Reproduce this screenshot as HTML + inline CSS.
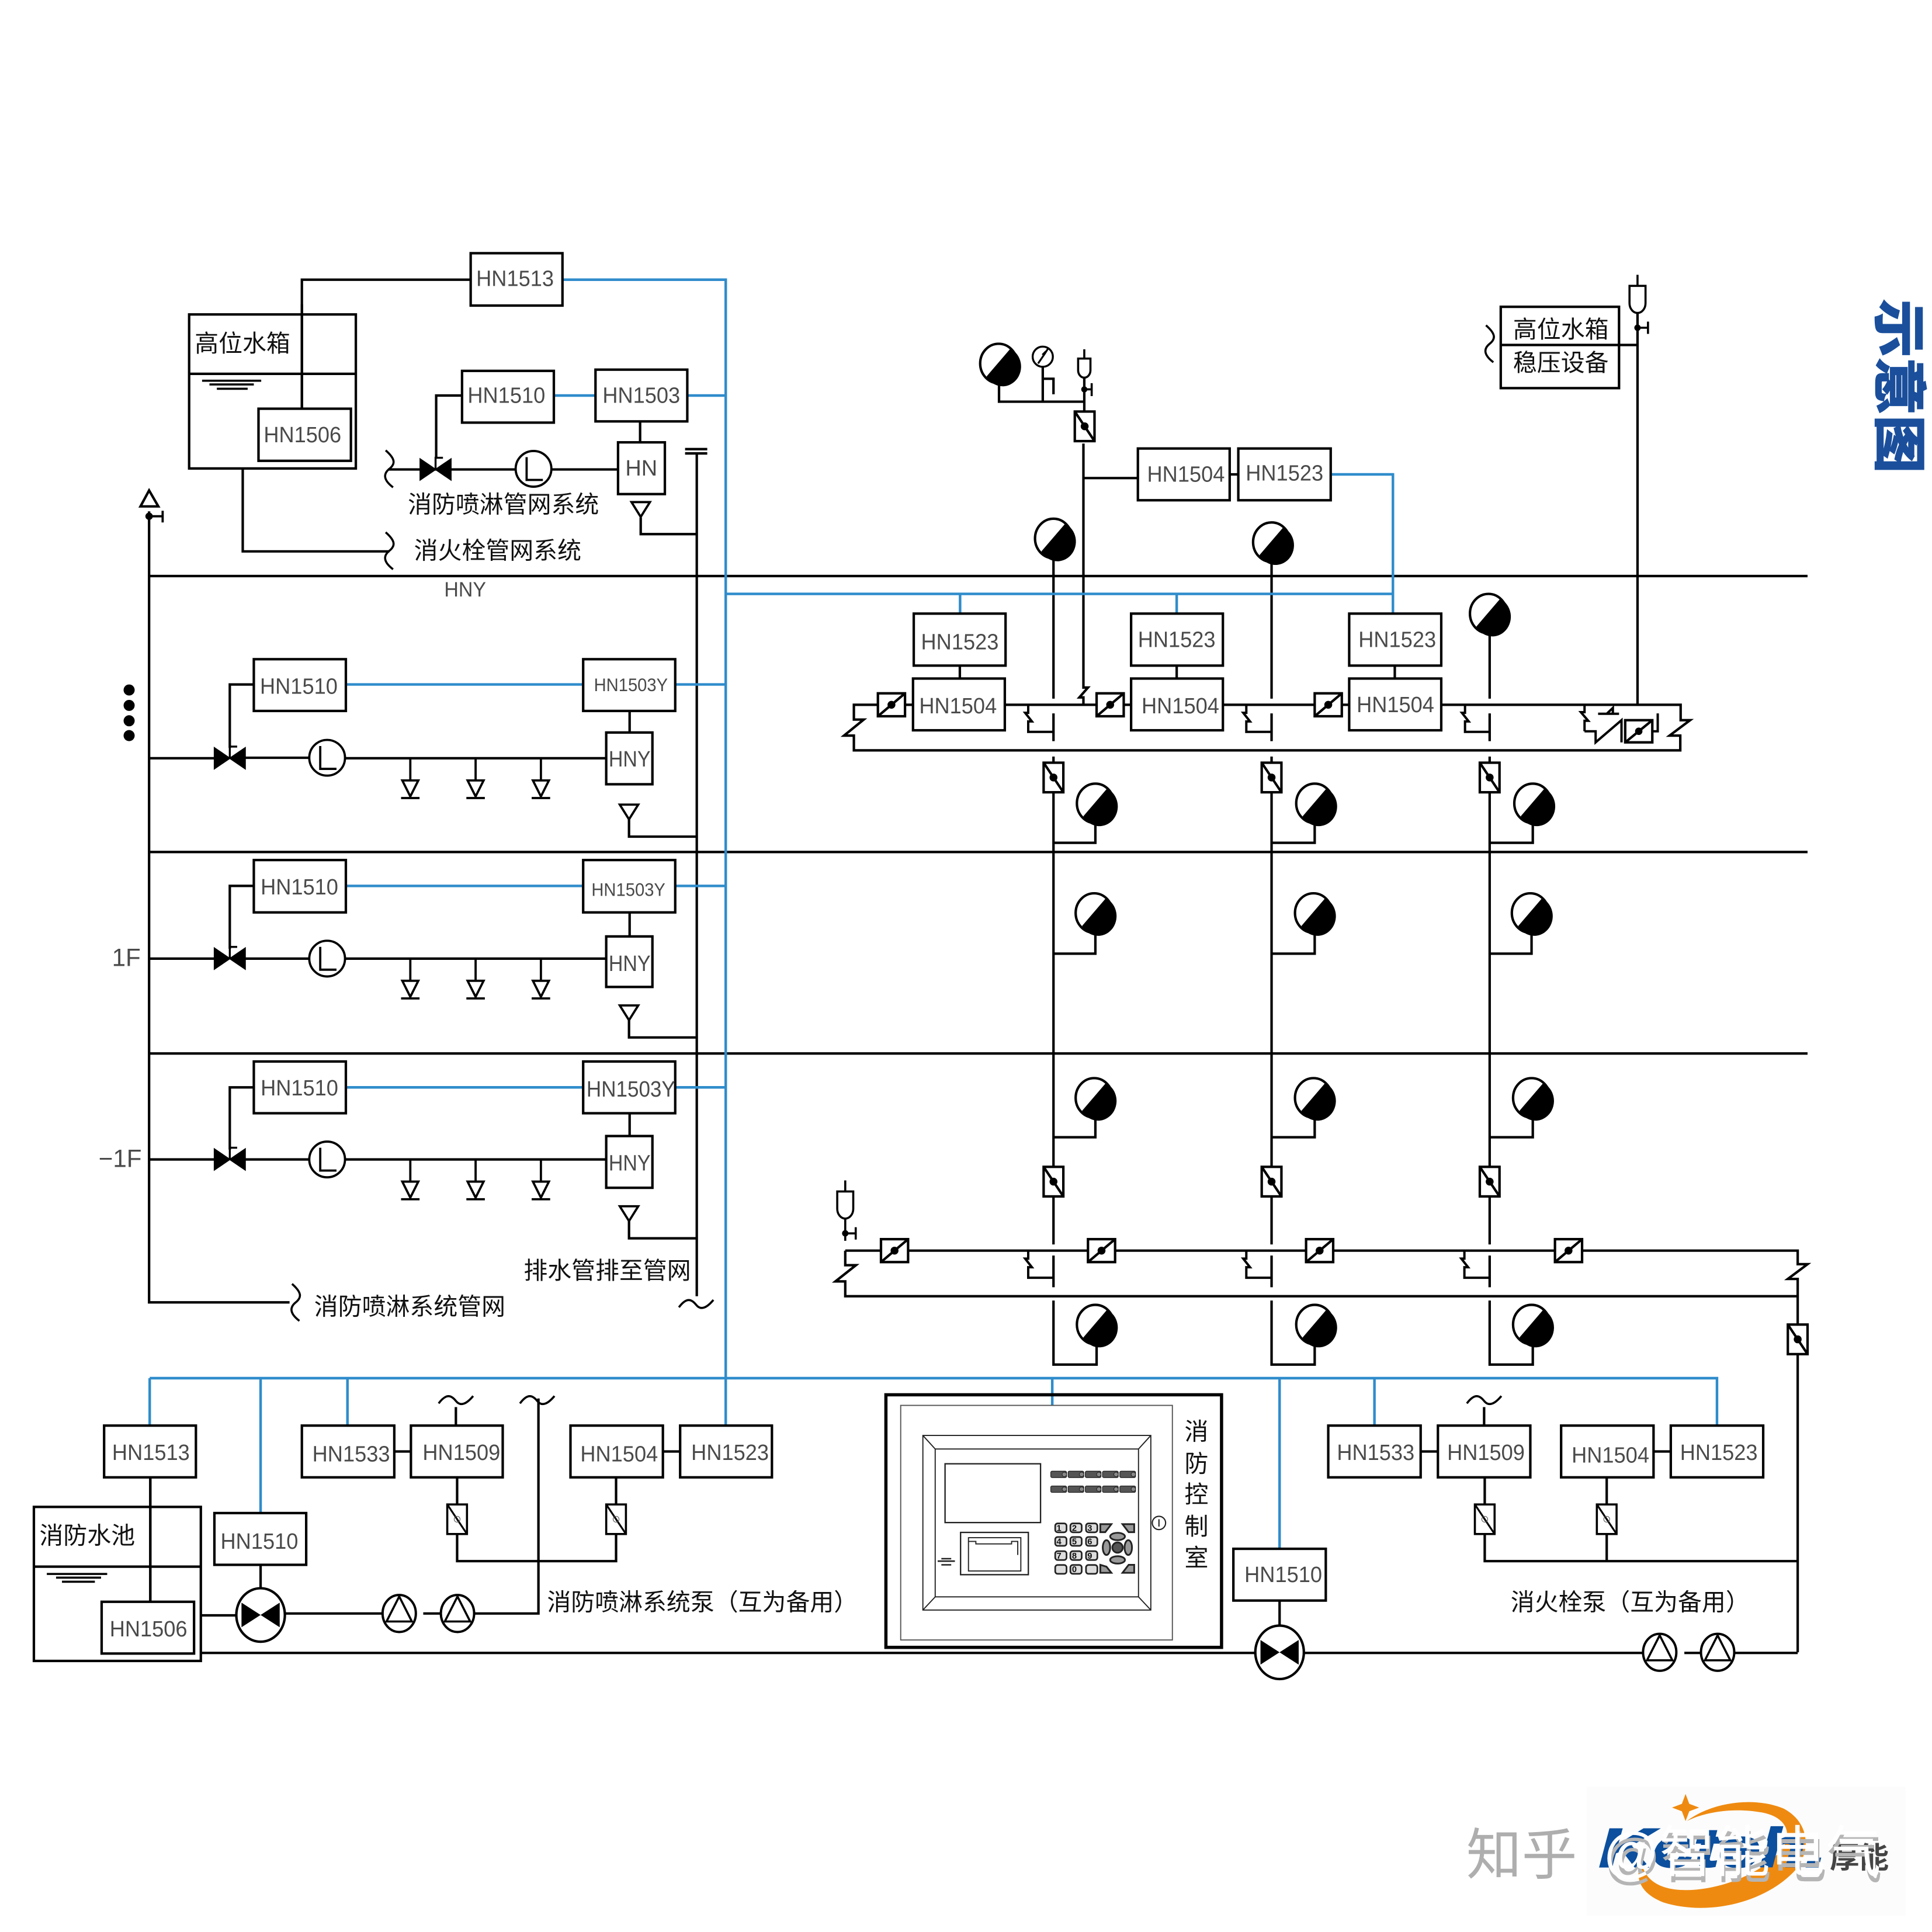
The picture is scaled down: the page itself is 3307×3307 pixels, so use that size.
<!DOCTYPE html>
<html lang="zh">
<head>
<meta charset="utf-8">
<title>消防喷淋系统图</title>
<style>
html,body{margin:0;padding:0;background:#fff}
svg{display:block}
.n{font-family:"Liberation Sans",sans-serif;font-size:18px;fill:#4a4a4a;text-anchor:middle}
.c{font-family:"Liberation Sans","Noto Sans CJK SC",sans-serif;font-size:19.4px;fill:#111}
</style>
</head>
<body>
<svg xmlns="http://www.w3.org/2000/svg" width="3307" height="3307" viewBox="0 0 1568 1568">
<defs>
<g id="valve"><path d="M-12.5,-8.5V8.5L12.5,-8.5V8.5Z" fill="#000" stroke="#000" stroke-width="1"/><path d="M0,0V-9.5H6" fill="none" stroke="#000" stroke-width="1.6"/></g>
<g id="lc"><circle r="14.5" fill="#fff" stroke="#000" stroke-width="1.8"/><path d="M-5.6,-9.5V9H7.6" fill="none" stroke="#000" stroke-width="1.8"/></g>
<g id="spr"><path d="M0,0V18M-6.5,18H6.5L0,31ZM-7.5,32.3H7.5" fill="none" stroke="#000" stroke-width="1.8"/></g>
<g id="drn"><path d="M-7.5,0H7.5L0,12Z" fill="#fff" stroke="#000" stroke-width="1.8"/></g>
<g id="bub"><ellipse rx="15" ry="16" fill="#fff" stroke="#000" stroke-width="2"/><path d="M-9.8,10.5L9.5,-12A15,16 0 1 1 -9.8,10.5Z" fill="#000"/></g>
<g id="chk"><rect x="-11" y="-9.3" width="22" height="18.6" fill="#fff" stroke="#000" stroke-width="2"/><path d="M-11,9.3L11,-9.3" stroke="#000" stroke-width="2"/><circle r="3.2" fill="#000"/></g>
<g id="vv"><rect x="-8" y="-12" width="16" height="24" fill="#fff" stroke="#000" stroke-width="2"/><path d="M-8,-12L8,12" stroke="#000" stroke-width="2"/><circle r="3.2" fill="#000"/></g>
<g id="vh"><rect x="-8" y="-12" width="16" height="24" fill="#fff" stroke="#000" stroke-width="1.7"/><path d="M-8,-12L8,12" stroke="#000" stroke-width="1.5"/><circle r="2.4" fill="none" stroke="#555" stroke-width=".5"/></g>
<g id="pump"><ellipse rx="19.7" ry="21.7" fill="#fff" stroke="#000" stroke-width="2"/><path d="M-15.5,-10V10L15.5,-10V10Z" fill="#000"/></g>
<g id="tp"><ellipse rx="13.5" ry="15" fill="#fff" stroke="#000" stroke-width="1.9"/><path d="M0,-13.8L10.3,6.5H-10.3Z" fill="none" stroke="#000" stroke-width="1.7"/></g>
<g id="jog"><path d="M-20.5,0V6.5H-23L-17.5,13.5H-20.5V22H0" fill="none" stroke="#000" stroke-width="1.9"/></g>
<g id="cap"><path d="M0,-17V-8M-6.5,-8H6.5V6A6.5,8 0 0 1 -6.5,6ZM0,14V32" fill="#fff" stroke="#000" stroke-width="1.7"/><path d="M0,26H8.5M8.5,21V31" fill="none" stroke="#000" stroke-width="1.7"/><circle cy="26" r="2.6" fill="#000"/></g>
<g id="sq"><path d="M-3,-15C5,-8 5,-4 0,0C-5,4 -5,9 3,15" fill="none" stroke="#000" stroke-width="1.7"/></g>
<g id="tl"><path d="M-14,3C-8,-5 -4,-4 0,1C4,6 9,3 14,-3" fill="none" stroke="#000" stroke-width="1.7"/></g>
<g id="btn"><rect width="12.8" height="5.2" rx="1" fill="#555" stroke="#111" stroke-width=".5"/><circle cx="11" cy="2.6" r="1.8" fill="#888" stroke="#111" stroke-width=".4"/></g>
<g id="key"><rect x=".4" y=".4" width="9.2" height="7.2" rx="2" fill="#ddd" stroke="#222" stroke-width="1.3"/></g>
</defs>

<rect width="1568" height="1568" fill="#fff"/>

<!-- black pipes and floors -->
<g fill="none" stroke="#000" stroke-width="2">
<path d="M121,467.5H1467M121,691.5H1467M121,855H1467"/>
<path d="M121,415V1057H235"/>
<path d="M245,332V227H382"/>
<path d="M315,381H501M354,372V321H375M519.5,341V360M520,420V433.5H565"/>
<path d="M197,380V447.5H316"/>
<path d="M565.5,368V1052M556,364.5H574M556,368H574"/>
<path d="M186.5,607V555.5H206M280,615.4H492M511,577V595M510.5,665V679H565M121,615.4H174M199,615H251"/>
<path d="M186.5,770V719H206M280,778H492M511,740V760M510.5,828V842H565M121,778H174M199,778H251"/>
<path d="M186.5,933V882.5H206M280,941H492M511,903V922M510.5,991V1005H565M121,941H174M199,941H251"/>

<!-- upper center -->
<path d="M810.8,310V326H880M846.3,298V326M846.3,307.4H855V320"/>
<path d="M880,306V334M879.3,360V558H883L876,566H879.3V572"/>
<path d="M879.3,388H923M998,385H1005"/>
<path d="M1329,254V572M1314,280H1329"/>
<path d="M693,572H1364V584.5H1371.7L1355,597H1363.7V609H693V597H685L701,584H693Z"/>
<path d="M779,540V551M955,540V551M1132,540V551"/>
<path d="M1286,593.5H1295V602.5L1316,584.5V602.5M1297,579.3H1314M1304,579.3L1309,574.5V579.3M1341,593.5H1345.4V579" stroke-width="1.9"/>
<path d="M1286,572V578L1283,578L1289,585H1286V593.5" stroke-width="1.9"/>

<!-- columns -->
<path d="M855,452V567M855,579V601.5M855,614V619M855,643V947M855,971V1010M855,1019V1044.7M855,1055.5V1107.5H890V1091"/>
<path d="M1032,456V567M1032,579V601.5M1032,614V619M1032,643V947M1032,971V1010M1032,1019V1044.7M1032,1055.5V1107.5H1067V1091"/>
<path d="M1209,513V567M1209,579V601.5M1209,614V619M1209,643V947M1209,971V1010M1209,1019V1044.7M1209,1055.5V1107.5H1244V1091"/>
<path d="M855,684H889V668M1032,684H1067V668M1209,684H1244V668"/>
<path d="M855,774H889V757M1032,774H1067V757M1209,774H1243V757"/>
<path d="M855,923H889V907M1032,923H1067V907M1209,923H1244V907"/>

<!-- lower loop -->
<path d="M686,1015H1459V1026H1467L1451,1038H1459V1341M686,1015V1026.8H694.7L678,1040H686V1052H1459"/>

<!-- bottom -->
<path d="M122,1199V1300M320,1178H333M538,1178H552M1153,1178H1167M1342,1178H1356"/>
<path d="M163,1341.5H1019M1058,1341.5H1333M1367,1341.5H1380M1407,1341.5H1459M211.5,1270V1292M1038.5,1299V1322"/>
<path d="M163,1311H192M231,1309.5H311M343.5,1309.5H358M385,1309.5H437V1135M370,1142V1157"/>
<path d="M371,1199V1221M371,1245V1267H500V1245M500,1221V1199"/>
<path d="M1205,1199V1221M1205,1245V1267H1459M1304,1199V1221M1304,1245V1267M1204.5,1142V1157"/>
</g>

<!-- blue -->
<g fill="none" stroke="#2f8ccb" stroke-width="2.1">
<path d="M457,227H589V1118.5M450,321H483M557,321H589"/>
<path d="M589,482H1130.5M1081,385H1130.5V498M779.2,482V498M955,482V498"/>
<path d="M281,555.5H473M548,555.5H589M281,719H473M548,719H589M281,882.5H473M548,882.5H589"/>
<path d="M121.5,1118.5H1393.5V1157M121.5,1118.5V1157M211.5,1118.5V1228M282,1118.5V1157M589,1118.5V1157M854,1118.5V1140.5M1038.5,1118.5V1257M1115.5,1118.5V1157"/>
</g>

<!-- tanks -->
<g fill="none" stroke="#000" stroke-width="2">
<rect x="153.5" y="255.2" width="135.3" height="125"/>
<path d="M153.5,303.4H288.8"/>
<path d="M164,309H212M170,312H206M176,315.5H201" stroke-width="1.7"/>
<rect x="27.5" y="1223" width="135.5" height="125"/>
<path d="M27.5,1271.5H163"/>
<path d="M38,1277.4H87M45.5,1280.4H82M50.3,1283.7H77" stroke-width="1.7"/>
<rect x="1218" y="249" width="96" height="66" fill="#fff"/>
<path d="M1218,280H1314"/>
<rect x="719" y="1132" width="272.4" height="205" stroke-width="2.6"/>
</g>

<!-- symbols -->
<use href="#sq" x="316" y="380.5"/><use href="#sq" x="316" y="447"/><use href="#sq" x="240" y="1057"/><use href="#sq" x="1209" y="279"/>
<use href="#tl" x="565" y="1058"/><use href="#tl" x="370" y="1136"/><use href="#tl" x="436" y="1136"/><use href="#tl" x="1204.5" y="1136"/>

<path d="M114,411L121,398L128.5,411Z" fill="#fff" stroke="#000" stroke-width="2"/>
<path d="M121,419H132M132,414.5V424" fill="none" stroke="#000" stroke-width="1.8"/><circle cx="121" cy="419" r="3" fill="#000"/>
<g fill="#000"><circle cx="104.8" cy="560" r="4.5"/><circle cx="104.8" cy="572.5" r="4.5"/><circle cx="104.8" cy="585" r="4.5"/><circle cx="104.8" cy="597" r="4.5"/></g>

<use href="#valve" x="353.5" y="381"/><use href="#lc" x="433" y="380.5"/><use href="#drn" x="520" y="407.5"/>
<use href="#valve" x="186.5" y="615.4"/><use href="#lc" x="265.5" y="615"/><use href="#spr" x="333" y="615.4"/><use href="#spr" x="386" y="615.4"/><use href="#spr" x="439" y="615.4"/><use href="#drn" x="510.5" y="653"/>
<use href="#valve" x="186.5" y="778"/><use href="#lc" x="265.5" y="778"/><use href="#spr" x="333" y="778"/><use href="#spr" x="386" y="778"/><use href="#spr" x="439" y="778"/><use href="#drn" x="510.5" y="816"/>
<use href="#valve" x="186.5" y="941"/><use href="#lc" x="265.5" y="941"/><use href="#spr" x="333" y="941"/><use href="#spr" x="386" y="941"/><use href="#spr" x="439" y="941"/><use href="#drn" x="510.5" y="979"/>

<use href="#bub" x="810.5" y="295"/>
<circle cx="846.3" cy="289.5" r="8.2" fill="#fff" stroke="#000" stroke-width="1.6"/><path d="M842.5,295L848,287L850.5,283M846,288L849,285" stroke="#000" stroke-width="1.5" fill="none"/>
<path d="M880,283.5V291M875,291H885V300.5A5,6 0 0 1 875,300.5Z" fill="#fff" stroke="#000" stroke-width="1.7"/>
<path d="M880,316H886M886,311V321.5" fill="none" stroke="#000" stroke-width="1.7"/><circle cx="880" cy="316" r="2.5" fill="#000"/>
<use href="#vv" x="880.3" y="346"/>
<use href="#cap" x="1329" y="240"/>

<use href="#bub" x="855" y="437"/><use href="#bub" x="1032" y="440"/><use href="#bub" x="1208" y="498"/>
<use href="#chk" x="723.5" y="572"/><use href="#chk" x="901" y="572"/><use href="#chk" x="1078" y="572"/>
<use href="#jog" x="855" y="572"/><use href="#jog" x="1032" y="572"/><use href="#jog" x="1209.5" y="572"/>
<rect x="1319" y="584.5" width="22" height="18" fill="#fff" stroke="#000" stroke-width="2"/><path d="M1319,602.5L1341,584.5" stroke="#000" stroke-width="2"/><circle cx="1330" cy="593.5" r="3" fill="#000"/>

<use href="#vv" x="855" y="631"/><use href="#vv" x="1032" y="631"/><use href="#vv" x="1209" y="631"/>
<use href="#bub" x="889" y="652"/><use href="#bub" x="1067" y="652"/><use href="#bub" x="1244" y="652"/>
<use href="#bub" x="888" y="741"/><use href="#bub" x="1066" y="741"/><use href="#bub" x="1242" y="741"/>
<use href="#bub" x="888" y="891"/><use href="#bub" x="1066" y="891"/><use href="#bub" x="1243" y="891"/>
<use href="#vv" x="855" y="959"/><use href="#vv" x="1032" y="959"/><use href="#vv" x="1209" y="959"/>
<use href="#cap" x="686" y="975"/>
<use href="#chk" x="726" y="1015"/><use href="#chk" x="894" y="1015"/><use href="#chk" x="1071" y="1015"/><use href="#chk" x="1273" y="1015"/>
<use href="#jog" x="855" y="1015"/><use href="#jog" x="1032" y="1015"/><use href="#jog" x="1209" y="1015"/>
<use href="#bub" x="889" y="1075"/><use href="#bub" x="1067" y="1075"/><use href="#bub" x="1243" y="1075"/>
<use href="#vv" x="1459" y="1087"/>

<use href="#vh" x="371" y="1233"/><use href="#vh" x="500" y="1233"/><use href="#vh" x="1205" y="1233"/><use href="#vh" x="1304" y="1233"/>
<use href="#pump" x="211.5" y="1310.7"/><use href="#pump" x="1038.5" y="1341"/>
<use href="#tp" x="324" y="1309.5"/><use href="#tp" x="371.3" y="1309.5"/><use href="#tp" x="1347" y="1341"/><use href="#tp" x="1394" y="1341"/>

<!-- boxes -->
<g fill="#fff" stroke="#000" stroke-width="2">
<rect x="382" y="205.5" width="74.5" height="42.5"/>
<rect x="375" y="301" width="74.5" height="42"/>
<rect x="483.3" y="300" width="74.5" height="42"/>
<rect x="209.8" y="331.7" width="75" height="42.3"/>
<rect x="501.6" y="359" width="38" height="42"/>
<rect x="206" y="535" width="74.7" height="42"/><rect x="473.3" y="535" width="74.7" height="42"/><rect x="492" y="594.5" width="37.5" height="42"/>
<rect x="206" y="698" width="74.7" height="42.5"/><rect x="473.3" y="698" width="74.7" height="42.5"/><rect x="492" y="760" width="37.5" height="41"/>
<rect x="206" y="861.5" width="74.7" height="42"/><rect x="473.3" y="861.5" width="74.7" height="42"/><rect x="492" y="922" width="37.5" height="42"/>
<rect x="923.5" y="364" width="74.5" height="42"/><rect x="1005" y="364" width="75" height="42"/>
<rect x="741.6" y="498" width="74.5" height="42.2"/><rect x="918" y="498" width="74.5" height="42.2"/><rect x="1095" y="498" width="74.7" height="42.2"/>
<rect x="741" y="550.7" width="74.5" height="42"/><rect x="918" y="550.7" width="74.5" height="42"/><rect x="1095" y="550.7" width="74.7" height="42"/>
<rect x="84.5" y="1157" width="74.5" height="42"/><rect x="245" y="1157" width="75" height="42"/><rect x="333.5" y="1157" width="74.5" height="42"/><rect x="463" y="1157" width="75" height="42"/><rect x="552" y="1157" width="74.5" height="42"/>
<rect x="174" y="1228" width="74.5" height="42"/><rect x="82.5" y="1300" width="75" height="42"/>
<rect x="1001" y="1257" width="75" height="42"/>
<rect x="1078" y="1157" width="75" height="42"/><rect x="1167" y="1157" width="75" height="42"/><rect x="1267" y="1157" width="75" height="42"/><rect x="1356" y="1157" width="75" height="42"/>
</g>
<path d="M122,1199V1300M245,247V332" stroke="#000" stroke-width="2" fill="none"/>

<!-- panel -->
<g fill="none" stroke="#222" stroke-width=".9">
<rect x="731" y="1140.6" width="220.5" height="190.4" stroke="#555"/>
<rect x="749" y="1165" width="185" height="141.7"/>
<rect x="759" y="1176" width="165" height="120"/>
<path d="M749,1165L759,1176M934,1165L924,1176M749,1306.7L759,1296M934,1306.7L924,1296"/>
<rect x="767" y="1188" width="77.5" height="47.7" stroke-width="1.1"/>
<rect x="779.6" y="1243.7" width="55" height="34.3" stroke-width="1.1"/>
<path d="M786,1248H828.5V1275H786Z M786,1251H792V1253H821V1251H826V1262" stroke-width=".9"/>
<circle cx="940.6" cy="1236" r="5.4" stroke-width="1"/><path d="M940.6,1233V1239" stroke-width="1"/>
<path d="M761,1267H775M764,1265H772M764,1270H772" stroke-width="1.2"/>
<g stroke-width="1.4">
<circle cx="907" cy="1256" r="4.2" fill="#555"/>
<ellipse cx="907" cy="1247" rx="6" ry="3" fill="#999"/><ellipse cx="907" cy="1266" rx="6" ry="3" fill="#999"/>
<ellipse cx="898" cy="1256" rx="3" ry="6" fill="#999"/><ellipse cx="915.7" cy="1256" rx="3" ry="6" fill="#999"/>
<path d="M893,1237H902L897,1243.5H893ZM911,1237H920.5V1243.5H916Z" fill="#999"/>
<path d="M893,1276.5V1270L898,1271.5L902,1276.5ZM911,1276.5L916,1270H920.5V1276.5Z" fill="#999"/>
</g>
</g>
<use href="#btn" x="852.8" y="1194"/><use href="#btn" x="866.8" y="1194"/><use href="#btn" x="880.8" y="1194"/><use href="#btn" x="894.8" y="1194"/><use href="#btn" x="908.8" y="1194"/>
<use href="#btn" x="852.8" y="1206"/><use href="#btn" x="866.8" y="1206"/><use href="#btn" x="880.8" y="1206"/><use href="#btn" x="894.8" y="1206"/><use href="#btn" x="908.8" y="1206"/>
<use href="#key" x="856" y="1236"/><use href="#key" x="868.3" y="1236"/><use href="#key" x="881" y="1236"/>
<use href="#key" x="856" y="1247"/><use href="#key" x="868.3" y="1247"/><use href="#key" x="881" y="1247"/>
<use href="#key" x="856" y="1258.5"/><use href="#key" x="868.3" y="1258.5"/><use href="#key" x="881" y="1258.5"/>
<use href="#key" x="856" y="1269.7"/><use href="#key" x="868.3" y="1269.7"/><use href="#key" x="881" y="1269.7"/>
<g font-family="Liberation Sans,sans-serif" font-size="7" fill="#111" font-weight="bold">
<text x="857.5" y="1242.5">1</text><text x="870" y="1242.5">2</text><text x="882.5" y="1242.5">3</text>
<text x="857.5" y="1253.5">4</text><text x="870" y="1253.5">5</text><text x="882.5" y="1253.5">6</text>
<text x="857.5" y="1265">7</text><text x="870" y="1265">8</text><text x="882.5" y="1265">9</text>
<text x="870" y="1276">0</text>
</g>

<!-- HN labels -->
<text class="n" x="418" y="232" textLength="63" lengthAdjust="spacingAndGlyphs">HN1513</text>
<text class="n" x="411" y="327" textLength="63" lengthAdjust="spacingAndGlyphs">HN1510</text>
<text class="n" x="520.5" y="327" textLength="63" lengthAdjust="spacingAndGlyphs">HN1503</text>
<text class="n" x="245.5" y="359" textLength="63" lengthAdjust="spacingAndGlyphs">HN1506</text>
<text class="n" x="520.5" y="386">HN</text>
<text class="n" x="377.5" y="484" style="font-size:16.5px" textLength="34" lengthAdjust="spacingAndGlyphs">HNY</text>
<text class="n" x="242.5" y="563" textLength="63" lengthAdjust="spacingAndGlyphs">HN1510</text>
<text class="n" x="512" y="561" style="font-size:15px" textLength="60" lengthAdjust="spacingAndGlyphs">HN1503Y</text>
<text class="n" x="511" y="622" textLength="34" lengthAdjust="spacingAndGlyphs">HNY</text>
<text class="n" x="243" y="726" textLength="63" lengthAdjust="spacingAndGlyphs">HN1510</text>
<text class="n" x="510" y="727" style="font-size:15px" textLength="60" lengthAdjust="spacingAndGlyphs">HN1503Y</text>
<text class="n" x="511" y="788" textLength="34" lengthAdjust="spacingAndGlyphs">HNY</text>
<text class="n" x="243" y="889" textLength="63" lengthAdjust="spacingAndGlyphs">HN1510</text>
<text class="n" x="512" y="890" textLength="72" lengthAdjust="spacingAndGlyphs">HN1503Y</text>
<text class="n" x="511" y="950" textLength="34" lengthAdjust="spacingAndGlyphs">HNY</text>
<text class="n" x="962.5" y="391" textLength="63" lengthAdjust="spacingAndGlyphs">HN1504</text>
<text class="n" x="1042.5" y="390" textLength="63" lengthAdjust="spacingAndGlyphs">HN1523</text>
<text class="n" x="779" y="527" textLength="63" lengthAdjust="spacingAndGlyphs">HN1523</text>
<text class="n" x="955" y="525" textLength="63" lengthAdjust="spacingAndGlyphs">HN1523</text>
<text class="n" x="1134" y="525" textLength="63" lengthAdjust="spacingAndGlyphs">HN1523</text>
<text class="n" x="777.5" y="579" textLength="63" lengthAdjust="spacingAndGlyphs">HN1504</text>
<text class="n" x="958" y="579" textLength="63" lengthAdjust="spacingAndGlyphs">HN1504</text>
<text class="n" x="1132.5" y="578" textLength="63" lengthAdjust="spacingAndGlyphs">HN1504</text>
<text class="n" x="122.5" y="1185" textLength="63" lengthAdjust="spacingAndGlyphs">HN1513</text>
<text class="n" x="285" y="1186" textLength="63" lengthAdjust="spacingAndGlyphs">HN1533</text>
<text class="n" x="374.5" y="1185" textLength="63" lengthAdjust="spacingAndGlyphs">HN1509</text>
<text class="n" x="502.5" y="1186" textLength="63" lengthAdjust="spacingAndGlyphs">HN1504</text>
<text class="n" x="592.5" y="1185" textLength="63" lengthAdjust="spacingAndGlyphs">HN1523</text>
<text class="n" x="210.5" y="1257" textLength="63" lengthAdjust="spacingAndGlyphs">HN1510</text>
<text class="n" x="120.5" y="1328" textLength="63" lengthAdjust="spacingAndGlyphs">HN1506</text>
<text class="n" x="1041.5" y="1284" textLength="63" lengthAdjust="spacingAndGlyphs">HN1510</text>
<text class="n" x="1116.5" y="1185" textLength="63" lengthAdjust="spacingAndGlyphs">HN1533</text>
<text class="n" x="1206" y="1185" textLength="63" lengthAdjust="spacingAndGlyphs">HN1509</text>
<text class="n" x="1307" y="1187" textLength="63" lengthAdjust="spacingAndGlyphs">HN1504</text>
<text class="n" x="1395" y="1185" textLength="63" lengthAdjust="spacingAndGlyphs">HN1523</text>
<text class="n" x="102.5" y="784" style="font-size:20px">1F</text>
<text class="n" x="97.5" y="947" style="font-size:20px">−1F</text>

<!-- CJK labels -->
<text class="c" x="158" y="285.5">高位水箱</text>
<text class="c" x="331" y="416">消防喷淋管网系统</text>
<text class="c" x="336" y="453.5">消火栓管网系统</text>
<text class="c" x="425" y="1038">排水管排至管网</text>
<text class="c" x="255" y="1067">消防喷淋系统管网</text>
<text class="c" x="32" y="1253">消防水池</text>
<text class="c" x="444" y="1307">消防喷淋系统泵（互为备用）</text>
<text class="c" x="1226" y="1307">消火栓泵（互为备用）</text>
<text class="c" x="1228" y="274">高位水箱</text>
<text class="c" x="1228" y="301">稳压设备</text>
<text class="c" x="971" y="1168.5" text-anchor="middle">消</text>
<text class="c" x="971" y="1194.5" text-anchor="middle">防</text>
<text class="c" x="971" y="1219.5" text-anchor="middle">控</text>
<text class="c" x="971" y="1245.5" text-anchor="middle">制</text>
<text class="c" x="971" y="1271" text-anchor="middle">室</text>

<!-- side title -->
<text transform="translate(1526,243) rotate(90)" font-family="Liberation Sans,Noto Sans CJK SC,sans-serif" font-weight="700" font-size="43" fill="#1b4f9c" stroke="#1b4f9c" stroke-width="1.2" textLength="141" lengthAdjust="spacingAndGlyphs">示意图</text>

<!-- logo and watermark -->
<rect x="1287.5" y="1450" width="259" height="105" fill="#fcfcfc"/>
<path d="M1368,1456L1371,1464L1379,1467L1371,1470L1368,1478L1365,1470L1357,1467L1365,1464Z" fill="#ef8a10"/>
<path d="M1369,1478C1390,1462 1425,1458 1448,1468C1470,1480 1470,1505 1455,1520C1430,1545 1385,1555 1350,1544C1332,1537 1326,1525 1332,1510C1334,1525 1346,1534 1368,1534C1400,1534 1436,1517 1448,1498C1455,1484 1446,1474 1430,1471C1408,1467 1385,1470 1369,1478Z" fill="#ef8a10"/>
<text x="1298" y="1515" font-family="Liberation Sans,sans-serif" font-weight="bold" font-style="italic" font-size="44" fill="#0b4f9e" stroke="#0b4f9e" stroke-width="1.5" textLength="184" lengthAdjust="spacingAndGlyphs">Kcteh.</text>
<text x="1485" y="1516" font-family="Liberation Sans,Noto Sans CJK SC,sans-serif" font-weight="bold" font-size="24" fill="#444">厚能</text>
<text x="1190" y="1521" font-family="Liberation Sans,Noto Sans CJK SC,sans-serif" font-size="45" fill="#aeaeae">知乎</text>
<text x="1302" y="1524" font-family="Liberation Sans,Noto Sans CJK SC,sans-serif" font-size="45" fill="#b5b5b5">@智能电气</text>
<text x="1301" y="1519" font-family="Liberation Sans,Noto Sans CJK SC,sans-serif" font-size="45" fill="#fff">@智能电气</text>
</svg>
</body>
</html>
